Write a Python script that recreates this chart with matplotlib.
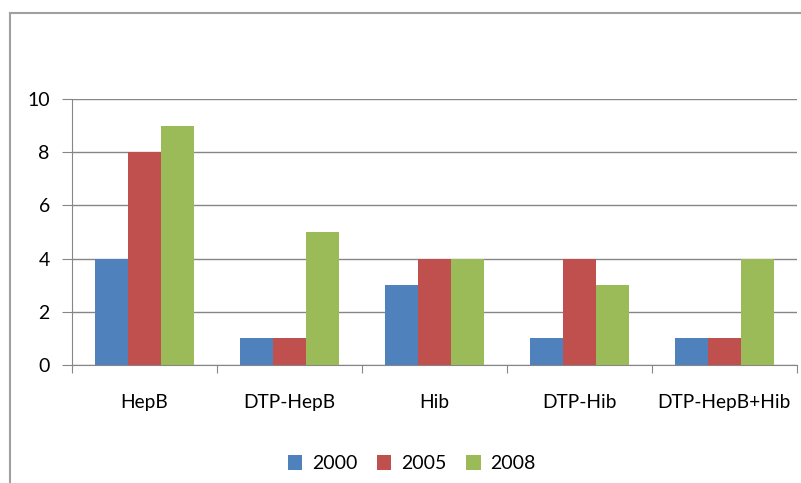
import matplotlib.pyplot as plt
import numpy as np
from matplotlib.lines import Line2D

plt.rcParams['font.family'] = ['Lato', 'DejaVu Sans']

categories = ['HepB', 'DTP-HepB', 'Hib', 'DTP-Hib', 'DTP-HepB+Hib']
years = ['2000', '2005', '2008']
v2000 = [4, 1, 3, 1, 1]
v2005 = [8, 1, 4, 4, 1]
v2008 = [9, 5, 4, 3, 4]
colors = ['#4F81BD', '#C0504D', '#9BBB59']

fig = plt.figure(figsize=(8.01, 4.83), dpi=100)
ax = fig.add_axes([0.0899, 0.2443, 0.905, 0.5507])

x = np.arange(len(categories))
w = 0.228
for i, (vals, lab) in enumerate(zip([v2000, v2005, v2008], years)):
    ax.bar(x + (i - 1) * w, vals, width=w, color=colors[i], label=lab, zorder=3)

ax.set_xlim(-0.5, len(categories) - 0.5)
ax.set_ylim(0, 10)
ax.set_yticks([0, 2, 4, 6, 8, 10])
ax.yaxis.grid(True, color='#868686', linewidth=1, zorder=0)

# category labels between boundary ticks
ax.set_xticks(np.arange(-0.5, len(categories), 1))
ax.set_xticklabels([])
ax.set_xticks(x, minor=True)
ax.set_xticklabels(categories, minor=True)
ax.tick_params(axis='x', which='minor', length=0, pad=21, labelsize=13.8)
ax.tick_params(axis='x', which='major', length=6, color='#868686', direction='out')
ax.tick_params(axis='y', length=7, color='#868686', pad=9, labelsize=14)

for s in ['top', 'right']:
    ax.spines[s].set_visible(False)
for s in ['left', 'bottom']:
    ax.spines[s].set_color('#868686')

ax.legend(loc='center', bbox_to_anchor=(0.514, 0.04), bbox_transform=fig.transFigure,
          ncol=3, frameon=False, fontsize=14, handlelength=0.75, handleheight=0.75,
          columnspacing=1.0, handletextpad=0.5)

# chart frame
fig.add_artist(Line2D([10 / 801, 10 / 801], [0, 1 - 13 / 483], transform=fig.transFigure,
                      color='#a0a0a0', linewidth=1.5))
fig.add_artist(Line2D([10 / 801, 1], [1 - 13 / 483, 1 - 13 / 483], transform=fig.transFigure,
                      color='#a0a0a0', linewidth=1.5))

fig.savefig('out.png', dpi=100)
